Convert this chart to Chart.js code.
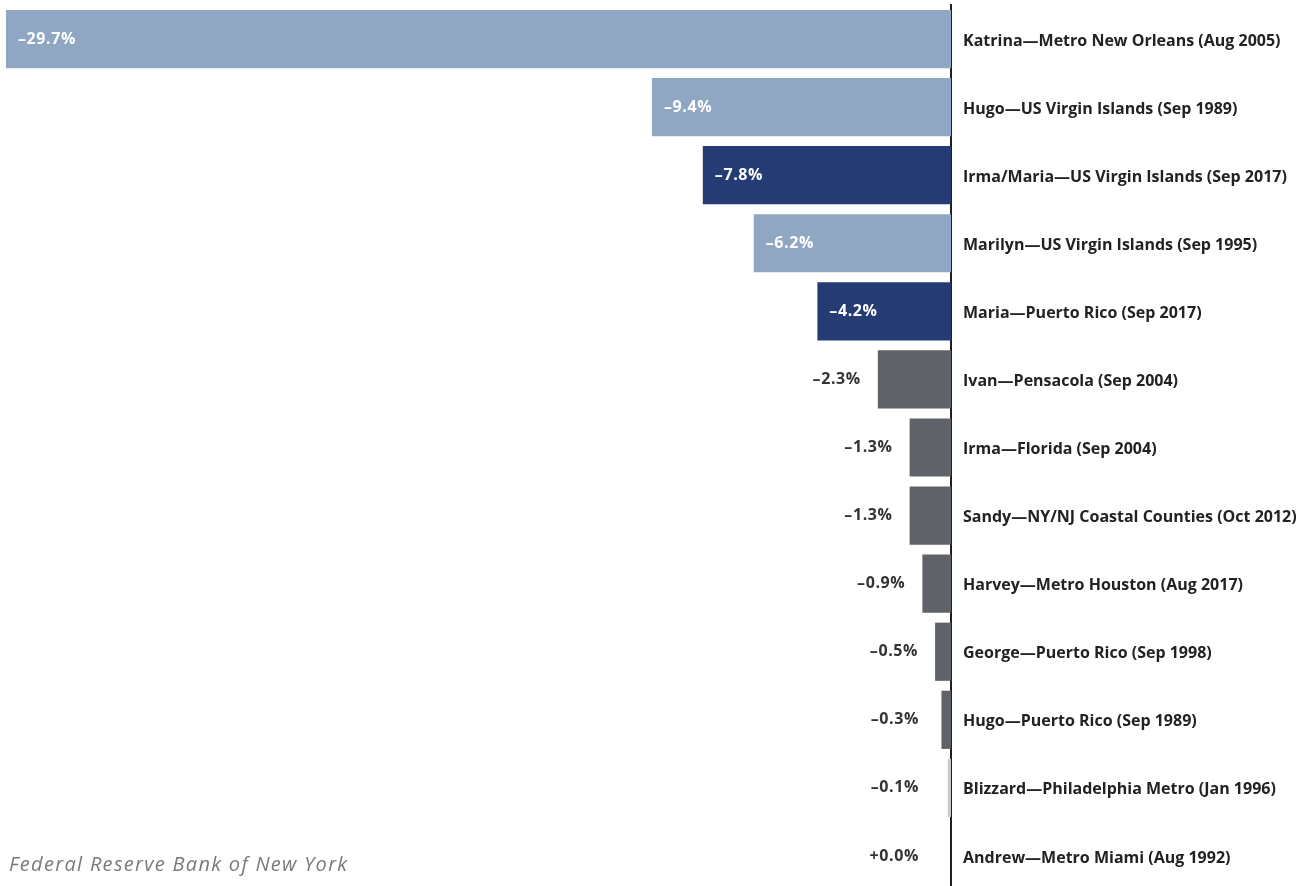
<!DOCTYPE html>
<html>
<head>
<meta charset="utf-8">
<script src="https://cdn.jsdelivr.net/npm/chart.js@4/dist/chart.umd.min.js"></script>
<style>
  html, body { margin: 0; padding: 0; background: #fff; overflow: hidden; }
  #wrap { position: relative; width: 1316px; height: 890px; }
  #foot { position: absolute; left: 9px; top: 850px; font-family: "Open Sans", sans-serif; font-style: italic; font-weight: 400; font-size: 20px; color: #7a7a7a; letter-spacing: 1.3px; }
</style>
</head>
<body>
<div id="wrap">
  <canvas id="c" width="1316" height="890"></canvas>
  <div id="foot">Federal Reserve Bank of New York</div>
</div>
<script>
const categories = [
  "Katrina—Metro New Orleans (Aug 2005)",
  "Hugo—US Virgin Islands (Sep 1989)",
  "Irma/Maria—US Virgin Islands (Sep 2017)",
  "Marilyn—US Virgin Islands (Sep 1995)",
  "Maria—Puerto Rico (Sep 2017)",
  "Ivan—Pensacola (Sep 2004)",
  "Irma—Florida (Sep 2004)",
  "Sandy—NY/NJ Coastal Counties (Oct 2012)",
  "Harvey—Metro Houston (Aug 2017)",
  "George—Puerto Rico (Sep 1998)",
  "Hugo—Puerto Rico (Sep 1989)",
  "Blizzard—Philadelphia Metro (Jan 1996)",
  "Andrew—Metro Miami (Aug 1992)"
];
const values = [-29.7, -9.4, -7.8, -6.2, -4.2, -2.3, -1.3, -1.3, -0.9, -0.5, -0.3, -0.1, 0.0];
const groups = ["virgin", "virgin", "recent", "virgin", "recent", "other", "other", "other", "other", "other", "other", "minor", "other"];
const xMin = -29.7;
const xMax = 0;

const groupColors = { virgin: "#8fa7c2", recent: "#243b73", other: "#5f6367", minor: "#c9c9c9" };
const labelFont = "'Open Sans', sans-serif";

function fmt(v) {
  if (v >= 0) return "+" + v.toFixed(1) + "%";
  return "–" + Math.abs(v).toFixed(1) + "%";
}

const valueLabels = {
  id: "valueLabels",
  afterDatasetsDraw(chart) {
    const ctx = chart.ctx;
    const meta = chart.getDatasetMeta(0);
    const xs = chart.scales.x;
    const zero = xs.getPixelForValue(0);
    ctx.save();
    ctx.font = "bold 16px " + labelFont;
    try { ctx.letterSpacing = "0.6px"; } catch (e) {}
    ctx.textBaseline = "middle";
    meta.data.forEach((bar, i) => {
      const v = values[i];
      const start = xs.getPixelForValue(v);
      const txt = fmt(v);
      if (zero - start > 100) {
        ctx.fillStyle = "#ffffff";
        ctx.textAlign = "left";
        ctx.fillText(txt, start + 12, bar.y);
      } else {
        ctx.fillStyle = "#333333";
        ctx.textAlign = "right";
        ctx.fillText(txt, Math.min(start - 17, 919), bar.y);
      }
    });
    ctx.restore();
  }
};

new Chart(document.getElementById("c"), {
  type: "bar",
  data: {
    labels: categories,
    datasets: [{
      data: values,
      backgroundColor: groups.map(g => groupColors[g]),
      borderWidth: 0,
      categoryPercentage: 1,
      barPercentage: 0.855
    }]
  },
  plugins: [valueLabels],
  options: {
    indexAxis: "y",
    responsive: false,
    animation: false,
    events: [],
    layout: { padding: { left: 6, top: 5, right: 0, bottom: 0 } },
    plugins: { legend: { display: false }, tooltip: { enabled: false } },
    scales: {
      x: {
        min: xMin, max: xMax,
        display: false,
        grid: { display: false }
      },
      y: {
        position: "right",
        grid: { display: false, drawTicks: false },
        border: { display: true, color: "#1f1f1f", width: 2 },
        ticks: {
          padding: 12,
          labelOffset: 2,
          color: "#222222",
          font: { family: labelFont, weight: "bold", size: 16 }
        },
        afterFit(scale) {
          scale.width = 1316 - 951;
          scale.paddingTop = 0;
          scale.paddingBottom = 0;
        }
      }
    }
  }
});
</script>
</body>
</html>
